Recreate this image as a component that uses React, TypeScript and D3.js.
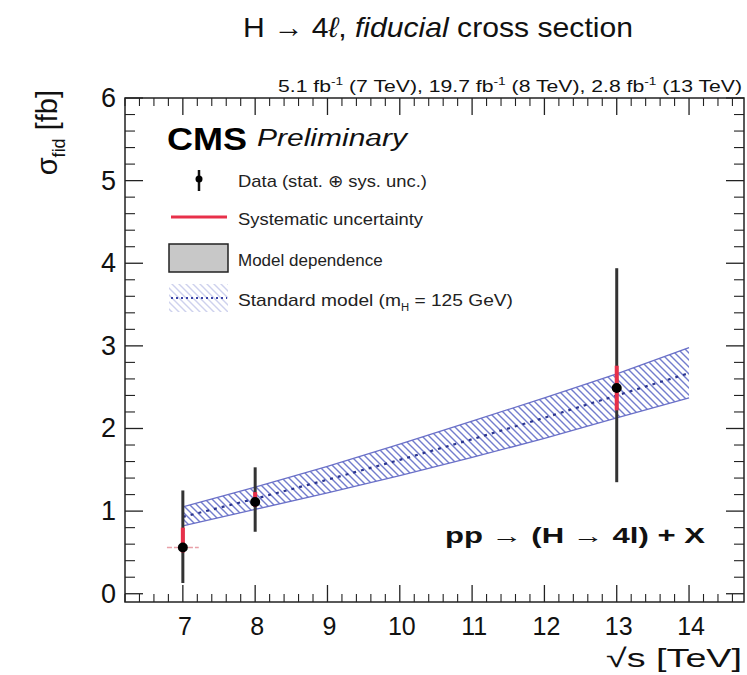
import React from "react";
import * as d3 from "d3";

const energies = [7, 8, 13];
const xsec = [0.56, 1.11, 2.49];
const totUp = [0.69, 0.42, 1.45];
const totDown = [0.43, 0.36, 1.14];
const sysUp = [0.24, 0.12, 0.27];
const sysDown = [0.06, 0.06, 0.27];

const smEnergy = [7, 8, 9, 10, 11, 12, 13, 14];
const smCentral = [0.93, 1.15, 1.38, 1.62, 1.87, 2.13, 2.4, 2.67];
const smUp = [1.05, 1.29, 1.54, 1.81, 2.09, 2.37, 2.66, 2.98];
const smDown = [0.82, 1.02, 1.22, 1.43, 1.65, 1.88, 2.13, 2.37];

const xTicks = [7, 8, 9, 10, 11, 12, 13, 14];
const yTicks = [0, 1, 2, 3, 4, 5, 6];

const W = 747;
const H = 675;
const L = 125, R = 744, T = 98, B = 602;
const FONT = "'Liberation Sans', Arial, Helvetica, sans-serif";

export default function App() {
  const x = d3.scaleLinear().domain([6.2, 14.76]).range([L, R]);
  const y = d3.scaleLinear().domain([-0.1, 6]).range([B, T]);

  const xMinor = d3.range(6.2, 14.76, 0.2).filter((v) => Math.abs(v - Math.round(v)) > 0.01);
  const yMinor = d3.range(0, 6.0001, 0.2).filter((v) => Math.abs(v - Math.round(v)) > 0.01);

  const sm = smEnergy.map((e, i) => ({ e, c: smCentral[i], u: smUp[i], d: smDown[i] }));
  const area = d3
    .area<any>()
    .x((d) => x(d.e))
    .y0((d) => y(d.d))
    .y1((d) => y(d.u));
  const lineU = d3.line<any>().x((d) => x(d.e)).y((d) => y(d.u));
  const lineD = d3.line<any>().x((d) => x(d.e)).y((d) => y(d.d));
  const lineC = d3.line<any>().x((d) => x(d.e)).y((d) => y(d.c));

  return (
    <svg
      width={W}
      height={H}
      style={{ position: "absolute", left: 0, top: 0, background: "#fff" }}
      fontFamily={FONT}
    >
      <defs>
        <pattern id="hatch" patternUnits="userSpaceOnUse" width="7" height="7">
          <path d="M-1,-1 L8,8 M-1,6 L1,8 M6,-1 L8,1" stroke="#5a66c4" strokeWidth="1.4" />
        </pattern>
        <clipPath id="plotclip">
          <rect x={L} y={T} width={R - L} height={B - T} />
        </clipPath>
      </defs>

      {/* title */}
      <text x={243} y={37} fontSize={28} fill="#111" textLength={390} lengthAdjust="spacingAndGlyphs">
        H → 4<tspan fontStyle="italic">ℓ</tspan>, <tspan fontStyle="italic">fiducial</tspan> cross section
      </text>

      {/* lumi */}
      <text x={278} y={92} fontSize={17} fill="#111" textLength={464} lengthAdjust="spacingAndGlyphs">
        5.1 fb<tspan dy={-7} fontSize={11}>-1</tspan>
        <tspan dy={7}> (7 TeV), 19.7 fb</tspan>
        <tspan dy={-7} fontSize={11}>-1</tspan>
        <tspan dy={7}> (8 TeV), 2.8 fb</tspan>
        <tspan dy={-7} fontSize={11}>-1</tspan>
        <tspan dy={7}> (13 TeV)</tspan>
      </text>

      {/* SM band */}
      <g clipPath="url(#plotclip)">
        <path d={area(sm) || ""} fill="url(#hatch)" opacity={0.85} />
        <path d={lineU(sm) || ""} fill="none" stroke="#6a70c8" strokeWidth={1.3} />
        <path d={lineD(sm) || ""} fill="none" stroke="#6a70c8" strokeWidth={1.3} />
        <path d={lineC(sm) || ""} fill="none" stroke="#2b3590" strokeWidth={2.2} strokeDasharray="3,5" />
      </g>

      {/* model dependence marker at 7 TeV */}
      <line x1={x(6.78)} x2={x(7.22)} y1={y(xsec[0])} y2={y(xsec[0])} stroke="#e8a0a8" strokeWidth={1.5} strokeDasharray="5,2" />

      {/* data */}
      {energies.map((e, i) => (
        <g key={e}>
          <line x1={x(e)} x2={x(e)} y1={y(xsec[i] + totUp[i])} y2={y(xsec[i] - totDown[i])} stroke="#333" strokeWidth={3} />
          <line x1={x(e)} x2={x(e)} y1={y(xsec[i] + sysUp[i])} y2={y(xsec[i] - sysDown[i])} stroke="#e8304a" strokeWidth={4} />
          <circle cx={x(e)} cy={y(xsec[i])} r={5} fill="#000" />
        </g>
      ))}

      {/* frame */}
      <rect x={L} y={T} width={R - L} height={B - T} fill="none" stroke="#222" strokeWidth={1.5} />

      {/* x ticks */}
      {xTicks.map((t) => (
        <g key={"xt" + t}>
          <line x1={x(t)} x2={x(t)} y1={B} y2={B - 17} stroke="#222" strokeWidth={1.3} />
          <line x1={x(t)} x2={x(t)} y1={T} y2={T + 17} stroke="#222" strokeWidth={1.3} />
          <text x={x(t) + 2} y={635} fontSize={25} textAnchor="middle" fill="#111">{t}</text>
        </g>
      ))}
      {xMinor.map((t, i) => (
        <g key={"xm" + i}>
          <line x1={x(t)} x2={x(t)} y1={B} y2={B - 8} stroke="#222" strokeWidth={1.1} />
          <line x1={x(t)} x2={x(t)} y1={T} y2={T + 8} stroke="#222" strokeWidth={1.1} />
        </g>
      ))}

      {/* y ticks */}
      {yTicks.map((t) => (
        <g key={"yt" + t}>
          <line x1={L} x2={L + 18} y1={y(t)} y2={y(t)} stroke="#222" strokeWidth={1.3} />
          <line x1={R} x2={R - 18} y1={y(t)} y2={y(t)} stroke="#222" strokeWidth={1.3} />
          <text x={116} y={y(t) + 9} fontSize={27} textAnchor="end" fill="#111">{t}</text>
        </g>
      ))}
      {yMinor.map((t, i) => (
        <g key={"ym" + i}>
          <line x1={L} x2={L + 10} y1={y(t)} y2={y(t)} stroke="#222" strokeWidth={1.1} />
          <line x1={R} x2={R - 10} y1={y(t)} y2={y(t)} stroke="#222" strokeWidth={1.1} />
        </g>
      ))}

      {/* axis titles */}
      <text transform={`translate(57,90) rotate(-90)`} fontSize={29} textAnchor="end" fill="#111">
        σ<tspan dy={8} fontSize={18}>fid</tspan>
        <tspan dy={-8}> [fb]</tspan>
      </text>
      <text x={606} y={667} fontSize={26} fill="#111" textLength={136} lengthAdjust="spacingAndGlyphs">√s [TeV]</text>

      {/* CMS label */}
      <text x={167} y={150} fontSize={32} fontWeight="bold" fill="#000" textLength={80} lengthAdjust="spacingAndGlyphs">CMS</text>
      <text x={257} y={146} fontSize={23} fontStyle="italic" fill="#111" textLength={150} lengthAdjust="spacingAndGlyphs">Preliminary</text>

      {/* legend */}
      <g fontSize={17} fill="#222">
        <line x1={199} x2={199} y1={170} y2={191} stroke="#111" strokeWidth={2.5} />
        <circle cx={199} cy={179} r={3.5} fill="#000" />
        <text x={238} y={187} textLength={189} lengthAdjust="spacingAndGlyphs">Data (stat. ⊕ sys. unc.)</text>

        <line x1={171} x2={227} y1={217} y2={217} stroke="#e8304a" strokeWidth={3} />
        <text x={238} y={225} textLength={185} lengthAdjust="spacingAndGlyphs">Systematic uncertainty</text>

        <rect x={169} y={244} width={59} height={28} fill="#c8c8c8" stroke="#222" strokeWidth={1.5} />
        <text x={238} y={266}>Model dependence</text>

        <rect x={169} y={284} width={59} height={28} fill="url(#hatch)" opacity={0.3} />
        <line x1={171} x2={227} y1={298} y2={298} stroke="#3a44a8" strokeWidth={2} strokeDasharray="2,3" />
        <text x={238} y={306} textLength={275} lengthAdjust="spacingAndGlyphs">
          Standard model (m<tspan dy={5} fontSize={10}>H</tspan>
          <tspan dy={-5}> = 125 GeV)</tspan>
        </text>
      </g>

      {/* annotation */}
      <text x={445} y={543} fontSize={22} fontWeight="bold" fill="#111" textLength={260} lengthAdjust="spacingAndGlyphs">
        pp  → (H  → 4l) + X
      </text>
    </svg>
  );
}
